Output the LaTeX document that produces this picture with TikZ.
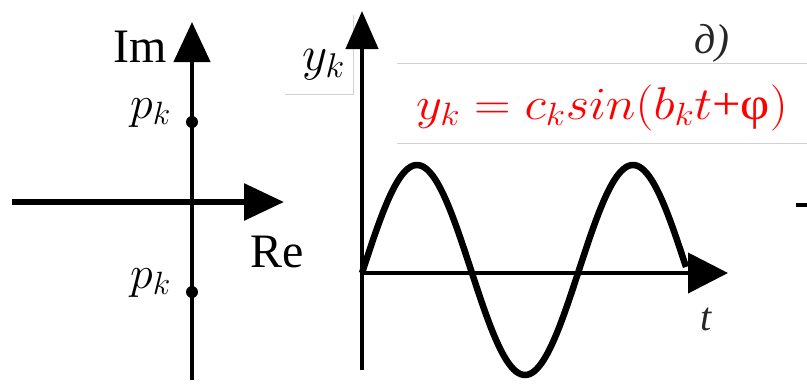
\RequirePackage{fix-cm}
\documentclass[tikz,border=0pt]{standalone}
\usepackage{fontspec}
\setmainfont{Liberation Serif}
\usetikzlibrary{arrows.meta}
\begin{document}
\begin{tikzpicture}[x=1pt,y=-1pt,
  lbl/.style={font=\fontsize{48}{50}\selectfont, inner sep=0pt, anchor=base west},
  mathlbl/.style={font=\fontsize{46}{50}\selectfont, inner sep=0pt, anchor=base west},
  frame/.style={gray!35, line width=0.8pt},
  pole/.style={fill=black}]
\useasboundingbox (0,0) rectangle (807,384);
% frames of the pasted pieces
\draw[frame] (285,94) -- (353,94) -- (353,15);
\draw[frame] (397,63) -- (807,63);
\draw[frame] (397,143) -- (807,143);
% left panel: complex plane
\coordinate (reL) at (12,202);
\coordinate (reR) at (284,202);
\coordinate (imB) at (192,380);
\coordinate (imT) at (192,22);
\draw[line width=6pt, -{Triangle[length=40pt,width=36pt]}] (reL) -- (reR);
\draw[line width=4.5pt, -{Triangle[length=40pt,width=36pt]}] (imB) -- (imT);
\node[lbl] (im) at (113,62) {Im};
\node[lbl] (re) at (250,267) {Re};
\fill[pole] (192,122) circle (6pt) coordinate (p1);
\fill[pole] (192,292) circle (6pt) coordinate (p2);
\node[mathlbl] (pk1) at (130,118) {$p_k$};
\node[mathlbl] (pk2) at (130,288) {$p_k$};
% right panel: time signal
\coordinate (yB) at (362,370);
\coordinate (yT) at (362,11);
\coordinate (tL) at (362,273);
\coordinate (tR) at (728,273);
\draw[line width=4.5pt, -{Triangle[length=38pt,width=32pt]}] (yB) -- (yT);
\draw[line width=4pt, -{Triangle[length=40pt,width=40pt]}] (tL) -- (tR);
\draw[line width=6.5pt, line join=round]
  plot[domain=362:686, samples=140, smooth] (\x,{270-105*sin((\x-363)*1.66667)});
\node[font=\fontsize{49}{52}\selectfont, inner sep=0pt, anchor=base west] (yk) at (302,70) {$y_k$};
\node[font=\fontsize{40}{42}\selectfont\itshape, text=black!85, inner sep=0pt, anchor=base west] (t) at (700,330) {t};
\node[font=\fontsize{42}{44}\selectfont\itshape, text=black!85, inner sep=0pt, anchor=base west] (d) at (694,53) {д)};
\node[font=\fontsize{46}{48}\selectfont, text=red, inner sep=0pt, anchor=base west] (eq) at (416,119)
  {\scalebox{1.1}[1]{$y_k = c_k sin(b_k t$+φ$)$}};
\draw[line width=4pt] (796,205) coordinate (dashL) -- (807,205) coordinate (dashR);
\end{tikzpicture}
\end{document}
